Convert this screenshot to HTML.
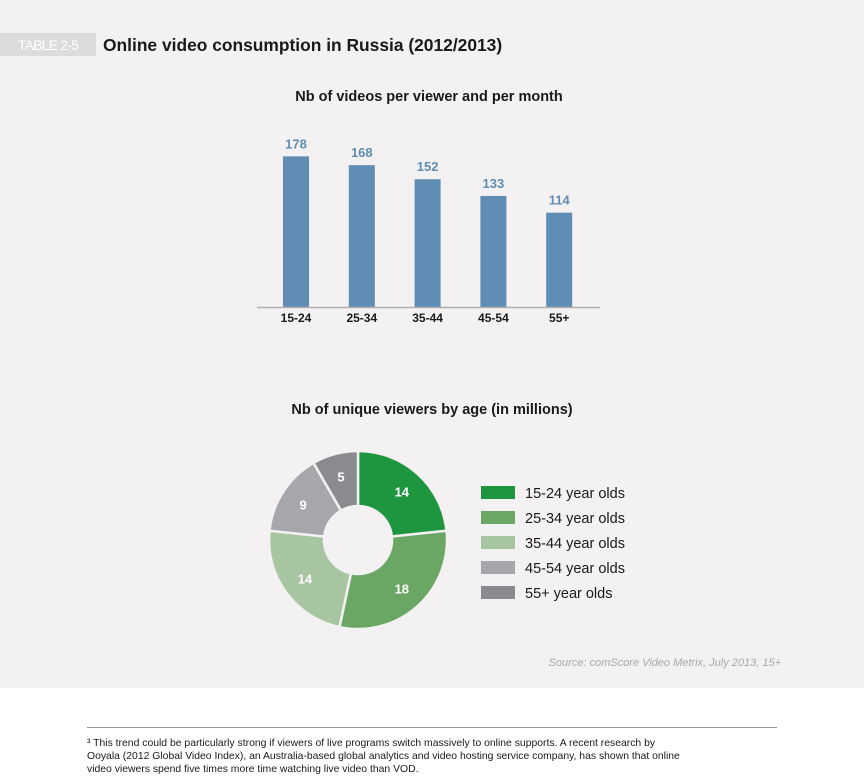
<!DOCTYPE html>
<html><head><meta charset="utf-8"><style>
body{margin:0;width:864px;height:781px;background:#fff;font-family:"Liberation Sans",Arial,sans-serif;position:relative;overflow:hidden}
#panel{position:absolute;left:0;top:0;width:864px;height:688px;background:#f3f1f2}
</style></head><body>
<div id="panel"></div>
<svg width="864" height="781" style="position:absolute;left:0;top:0">
<rect x="0" y="33" width="96" height="23" fill="#dcdcdc"/>
<text x="48" y="50" text-anchor="middle" font-size="14" fill="#fff" letter-spacing="-0.8">TABLE 2-5</text>
<text x="103" y="51" font-size="17.4" font-weight="bold" fill="#1a1a1a">Online video consumption in Russia (2012/2013)</text>
<text x="429" y="101" text-anchor="middle" font-size="14.5" font-weight="bold" fill="#1a1a1a">Nb of videos per viewer and per month</text>
<g id="bars"></g>
<line x1="257" y1="307.5" x2="600" y2="307.5" stroke="#b0b0b0" stroke-width="1.5"/>
<text x="432" y="414" text-anchor="middle" font-size="14.5" font-weight="bold" fill="#1a1a1a">Nb of unique viewers by age (in millions)</text>
<g id="donut"></g>
<g id="legend"></g>
<text x="781" y="666" text-anchor="end" font-size="11" font-style="italic" fill="#a8a8a8">Source: comScore Video Metrix, July 2013, 15+</text>
<line x1="87" y1="727.5" x2="777" y2="727.5" stroke="#999" stroke-width="1"/>
<text font-size="10.4" fill="#1a1a1a">
<tspan x="87" y="746">³ This trend could be particularly strong if viewers of live programs switch massively to online supports. A recent research by</tspan>
<tspan x="87" y="759">Ooyala (2012 Global Video Index), an Australia-based global analytics and video hosting service company, has shown that online</tspan>
<tspan x="87" y="772">video viewers spend five times more time watching live video than VOD.</tspan>
</text>
</svg>
<script>
const barCategories=["15-24","25-34","35-44","45-54","55+"];
const barValues=[178,168,152,133,114];
const pieLabels=["15-24 year olds","25-34 year olds","35-44 year olds","45-54 year olds","55+ year olds"];
const pieValues=[14,18,14,9,5];
const pieColors=["#1e9640","#6aa764","#a8c5a2","#a7a7ab","#8a8b8f"];
const NS="http://www.w3.org/2000/svg";
function mk(t,a,p){const e=document.createElementNS(NS,t);for(const k in a)e.setAttribute(k,a[k]);p.appendChild(e);return e;}
const base=307;
const xScale=i=>296+i*65.8;
const yScale=v=>313-v*0.88;
const gb=document.getElementById('bars');
barValues.forEach((v,i)=>{
 const cx=xScale(i),y=yScale(v);
 const r=mk('rect',{x:cx-13,y:y,width:26,height:base-y,fill:'#5f8db3'},gb);
 
 
 const t=mk('text',{x:cx,y:y-8,'text-anchor':'middle','font-size':13,'font-weight':'bold',fill:'#5f8db3'},gb);t.textContent=v;
 
 
 const l=mk('text',{x:cx,y:322,'text-anchor':'middle','font-size':12,'font-weight':'bold',fill:'#1a1a1a'},gb);l.textContent=barCategories[i];
 
 
});
const gd=document.getElementById('donut');
const cx=358,cy=540,R=89,r0=34;
const total=pieValues.reduce((a,b)=>a+b,0);
let a0=0;
const pt=(a,rr)=>[cx+rr*Math.sin(a),cy-rr*Math.cos(a)];
pieValues.forEach((v,i)=>{
 const a1=a0+v/total*2*Math.PI;
 const [x1,y1]=pt(a0,R),[x2,y2]=pt(a1,R),[x3,y3]=pt(a1,r0),[x4,y4]=pt(a0,r0);
 const lg=(a1-a0)>Math.PI?1:0;
 const p=mk('path',{d:`M${x1},${y1}A${R},${R} 0 ${lg} 1 ${x2},${y2}L${x3},${y3}A${r0},${r0} 0 ${lg} 0 ${x4},${y4}Z`,fill:pieColors[i],stroke:'#f3f1f2','stroke-width':2.5},gd);
 
 
 const m=(a0+a1)/2,[lx,ly]=pt(m,(R+r0)/2+4);
 const t=mk('text',{x:lx,y:ly+5,'text-anchor':'middle','font-size':13,'font-weight':'bold',fill:'#fff'},gd);t.textContent=v;
 
 
 a0=a1;
});
const gl=document.getElementById('legend');
pieLabels.forEach((s,i)=>{
 const y=486+i*25;
 const r=mk('rect',{x:481,y:y,width:34,height:13,fill:pieColors[i]},gl);
 
 
 const t=mk('text',{x:525,y:y+12,'font-size':14.5,fill:'#1a1a1a'},gl);t.textContent=s;
 
 
});
</script>
</body></html>
